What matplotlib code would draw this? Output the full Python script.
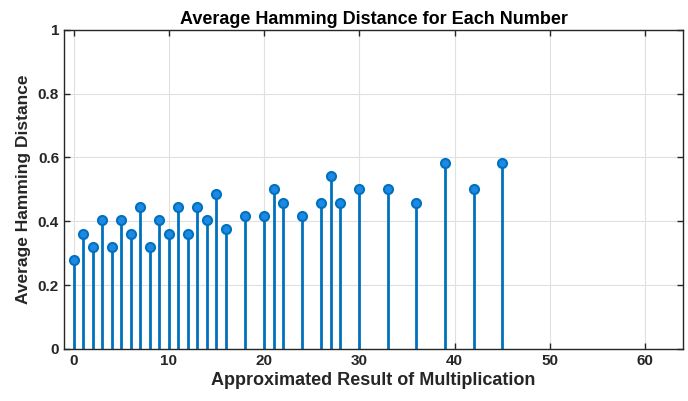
import matplotlib
matplotlib.use('Agg')
import matplotlib.pyplot as plt

plt.rcParams['font.family'] = ['Liberation Sans', 'DejaVu Sans']
plt.rcParams['font.weight'] = 'bold'

# products and their average hamming distance
numbers = [0, 1, 2, 3, 4, 5, 6, 7, 8, 9, 10, 11, 12, 13, 14, 15, 16,
           18, 20, 21, 22, 24, 26, 27, 28, 30, 33, 36, 39, 42, 45]
avg_hd = [0.278, 0.361, 0.319, 0.403, 0.319, 0.403, 0.361, 0.444, 0.319,
          0.403, 0.361, 0.444, 0.361, 0.444, 0.403, 0.486, 0.375,
          0.417, 0.417, 0.500, 0.458, 0.417, 0.458, 0.542, 0.458, 0.500,
          0.500, 0.458, 0.583, 0.500, 0.583]

fig = plt.figure(figsize=(6.88, 4.01), dpi=100)
ax = fig.add_axes([0.093, 0.13, 0.9, 0.796])

blue = '#0072BD'
markerline, stemlines, baseline = ax.stem(numbers, avg_hd, basefmt=' ')
plt.setp(stemlines, color=blue, linewidth=2)
plt.setp(markerline, marker='o', markersize=6.5, markerfacecolor='#1E88E5',
         markeredgecolor=blue, markeredgewidth=1.5)

ax.set_xlim(-1, 64)
ax.set_ylim(0, 1)
ax.set_xticks([0, 10, 20, 30, 40, 50, 60])
ax.set_yticks([0, 0.2, 0.4, 0.6, 0.8, 1])
ax.set_yticklabels(['0', '0.2', '0.4', '0.6', '0.8', '1'])
ax.grid(True, color='#e0e0e0', linewidth=0.8)
ax.set_axisbelow(True)
ax.tick_params(direction='in', top=True, right=True, length=4,
               labelsize=11, colors='#262626', width=1)
for s in ax.spines.values():
    s.set_color('#262626')
    s.set_linewidth(1)
for lbl in ax.get_xticklabels() + ax.get_yticklabels():
    lbl.set_fontweight('bold')

ax.set_title('Average Hamming Distance for Each Number', fontsize=13,
             fontweight='bold', pad=4)
ax.set_xlabel('Approximated Result of Multiplication', fontsize=13,
              fontweight='bold', color='#262626', labelpad=3)
ax.set_ylabel('Average Hamming Distance', fontsize=12.5,
              fontweight='bold', color='#262626', labelpad=5)

fig.savefig('out.png', dpi=100)
